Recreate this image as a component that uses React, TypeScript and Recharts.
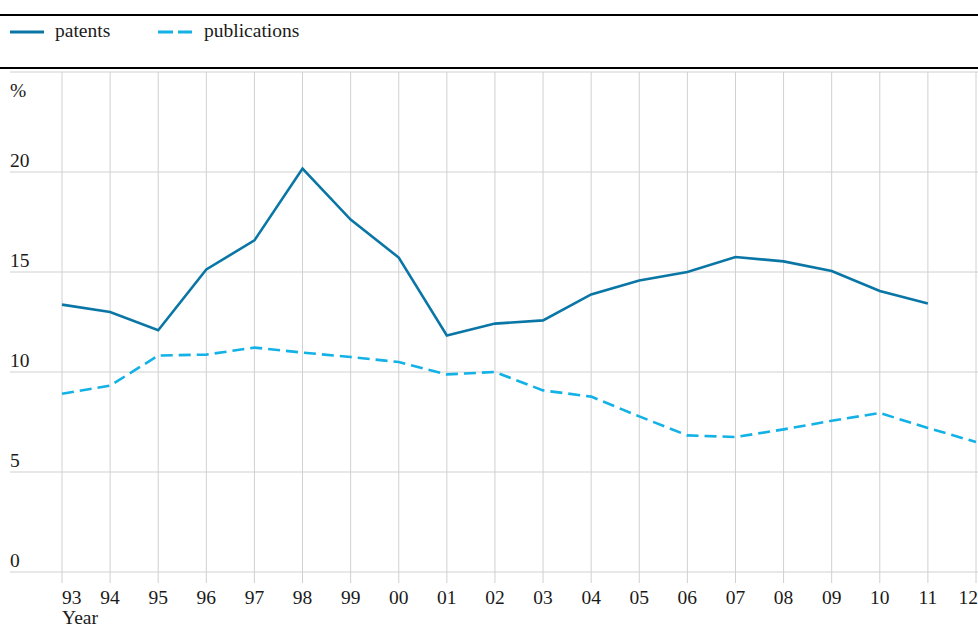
import React from "react";
import { LineChart, Line, XAxis, YAxis, CartesianGrid, Legend, ReferenceLine } from "recharts";

const years = ["93", "94", "95", "96", "97", "98", "99", "00", "01", "02", "03", "04", "05", "06", "07", "08", "09", "10", "11", "12"];
const patents = [13.37, 13.0, 12.09, 15.13, 16.58, 20.17, 17.62, 15.72, 11.83, 12.42, 12.58, 13.88, 14.58, 15.0, 15.75, 15.53, 15.05, 14.05, 13.42, null];
const publications = [8.91, 9.32, 10.82, 10.87, 11.22, 10.97, 10.75, 10.5, 9.88, 10.0, 9.08, 8.77, 7.78, 6.83, 6.75, 7.13, 7.56, 7.95, 7.2, 6.5];
const yTicks = [0, 5, 10, 15, 20];

const PATENT_COLOR = "#0a76a6";
const PUB_COLOR = "#12b1e6";
const GRID = "#d0d0d0";
const FONT = "'Liberation Serif', 'Times New Roman', serif";
const TEXT = "#1a1a1a";

const data = years.map((year, i) => ({ year, patents: patents[i], publications: publications[i] }));

const LegendBox = () => (
  <div style={{ position: "relative", width: 978, height: 70, fontFamily: FONT, fontSize: 19.5, color: TEXT }}>
    <div style={{ position: "absolute", top: 14, left: 0, width: 978, height: 2, background: "#000" }} />
    <svg width={60} height={10} style={{ position: "absolute", left: 0, top: 27 }}>
      <line x1={10} x2={44} y1={5} y2={5} stroke={PATENT_COLOR} strokeWidth={3} />
    </svg>
    <span style={{ position: "absolute", left: 55, top: 19, lineHeight: "24px" }}>patents</span>
    <svg width={60} height={10} style={{ position: "absolute", left: 150, top: 27 }}>
      <line x1={8} x2={42} y1={5} y2={5} stroke={PUB_COLOR} strokeWidth={3} strokeDasharray="15 5" />
    </svg>
    <span style={{ position: "absolute", left: 204, top: 19, lineHeight: "24px" }}>publications</span>
    <div style={{ position: "absolute", top: 67, left: 0, width: 978, height: 2, background: "#000" }} />
  </div>
);

const XTick = (props: any) => {
  const { x, y, payload, index } = props;
  const last = index === years.length - 1;
  const anchor = index === 0 ? "start" : last ? "end" : "middle";
  return (
    <g>
      <text x={last ? x + 2 : x} y={y + 19} textAnchor={anchor} fontSize={19.5} fill={TEXT} fontFamily={FONT}>
        {payload.value}
      </text>
      {index === 0 && (
        <text x={x} y={y + 39} textAnchor="start" fontSize={19.5} fill={TEXT} fontFamily={FONT}>
          Year
        </text>
      )}
    </g>
  );
};

const renderYTick = (props: any) => (
  <text x={10} y={props.y - 5} textAnchor="start" fontSize={19.5} fill={TEXT} fontFamily={FONT}>
    {props.payload.value}
  </text>
);

const renderPercent = (props: any) => (
  <text x={10} y={(props.viewBox?.y ?? 72) + 25} textAnchor="start" fontSize={19.5} fill={TEXT} fontFamily={FONT}>
    %
  </text>
);

export default function App() {
  return (
    <div style={{ position: "absolute", left: 0, top: 0, width: 978, height: 628, fontFamily: FONT, background: "#fff" }}>
      <LineChart width={978} height={628} data={data} margin={{ top: 2, right: 0, left: 0, bottom: 0 }}>
        <Legend verticalAlign="top" align="left" content={() => <LegendBox />} wrapperStyle={{ left: 0, top: 0 }} />
        <CartesianGrid stroke={GRID} strokeWidth={1} vertical={false} />
        {years.map((y) => (
          <ReferenceLine key={y} x={y} stroke={GRID} strokeWidth={1} />
        ))}
        <XAxis
          dataKey="year"
          padding={{ left: 52, right: 2 }}
          axisLine={false}
          tickLine={{ stroke: GRID, strokeWidth: 1 }}
          tickSize={11}
          tick={<XTick />}
          interval={0}
          height={56}
        />
        <YAxis
          domain={[0, 25]}
          ticks={yTicks}
          width={10}
          axisLine={false}
          tickLine={false}
          tick={renderYTick}
          interval={0}
          label={renderPercent}
        />
        <Line dataKey="patents" stroke={PATENT_COLOR} strokeWidth={2.6} dot={false} isAnimationActive={false} />
        <Line
          dataKey="publications"
          stroke={PUB_COLOR}
          strokeWidth={2.6}
          strokeDasharray="12 6"
          dot={false}
          isAnimationActive={false}
        />
      </LineChart>
    </div>
  );
}
